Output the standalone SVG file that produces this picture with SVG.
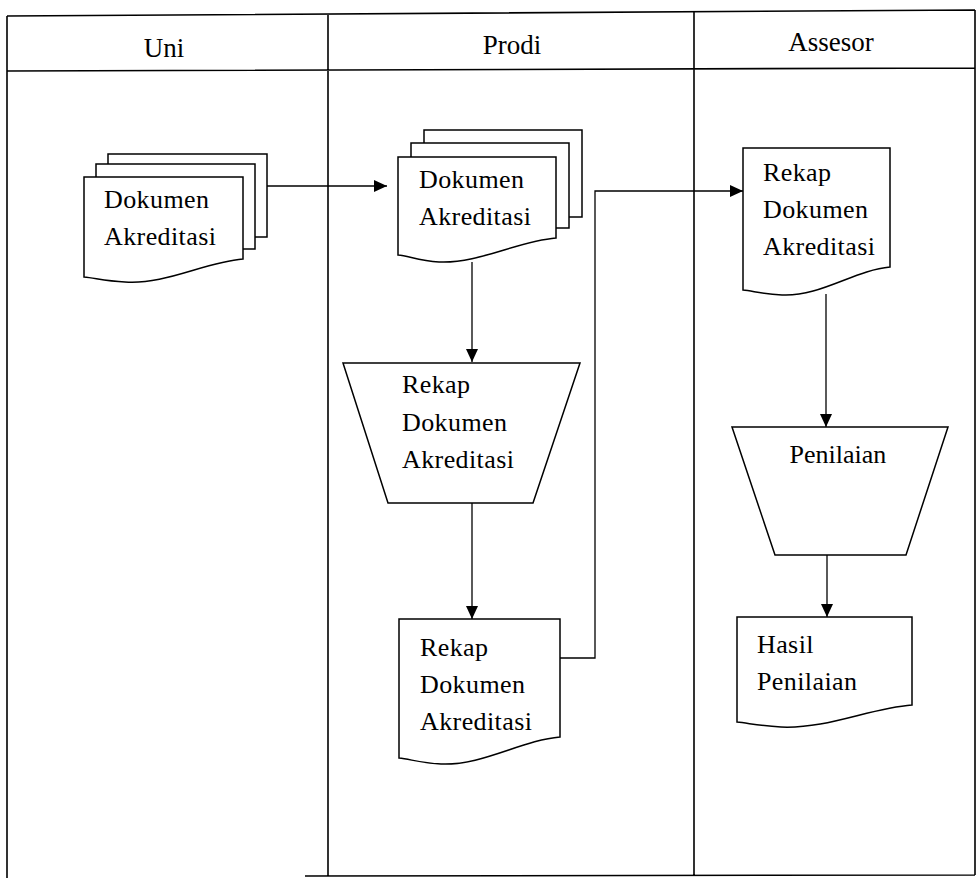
<svg xmlns="http://www.w3.org/2000/svg" width="978" height="878" viewBox="0 0 978 878">
<style>
.frame{fill:none;stroke:#000;stroke-width:1.6}
.shape{fill:#fff;stroke:#000;stroke-width:1.5;stroke-linejoin:miter}
.conn{fill:none;stroke:#000;stroke-width:1.3}
.hdr{font-family:"Liberation Serif","Times New Roman",serif;font-size:27px;fill:#000;text-anchor:middle}
.lbl{font-family:"Liberation Serif","Times New Roman",serif;font-size:26px;letter-spacing:0.4px;fill:#000}
</style>
<defs>
<marker id="arr" markerUnits="userSpaceOnUse" markerWidth="14" markerHeight="12" refX="13" refY="6" orient="auto">
<path d="M0,0 L13,6 L0,12 Z" fill="#000"/>
</marker>
</defs>
<g id="lanes">
<path class="frame" d="M7,16 L975,10 M7,71 L975,68 M7,16 L7,878 M975,10 L975,875 M305,876 L975,875 M328,14 L328,876 M694,12 L694,875"/>
<text class="hdr" x="164" y="57">Uni</text>
<text class="hdr" x="512" y="54">Prodi</text>
<text class="hdr" x="831" y="51">Assesor</text>
</g>
<g id="connectors">
<path class="conn" d="M267,186 L387,186" marker-end="url(#arr)"/>
<path class="conn" d="M472,262 L472,362" marker-end="url(#arr)"/>
<path class="conn" d="M472,503 L472,619" marker-end="url(#arr)"/>
<path class="conn" d="M560,658 L595,658 L595,191 L743,191" marker-end="url(#arr)"/>
<path class="conn" d="M826,294 L826,427" marker-end="url(#arr)"/>
<path class="conn" d="M827,555 L827,617" marker-end="url(#arr)"/>
</g>
<g id="uni-dokumen">
<rect class="shape" x="108" y="154" width="159" height="83"/>
<rect class="shape" x="96" y="164" width="159" height="85"/>
<path class="shape" d="M84,177 L243,177 L243,259 C205,262 165,285 125,282 C105,281 95,278 84,277 Z"/>
<text class="lbl" x="104" y="208">Dokumen</text>
<text class="lbl" x="104" y="245">Akreditasi</text>
</g>
<g id="prodi-dokumen">
<rect class="shape" x="424" y="130" width="158" height="87"/>
<rect class="shape" x="411" y="143" width="158" height="85"/>
<path class="shape" d="M398,157 L556,157 L556,238 C518,241 478,264 439,262 C419,261 409,256 398,255 Z"/>
<text class="lbl" x="419" y="188">Dokumen</text>
<text class="lbl" x="419" y="225">Akreditasi</text>
</g>
<g id="prodi-rekap-manual">
<path class="shape" d="M343,363 L580,363 L533,503 L388,503 Z"/>
<text class="lbl" x="402" y="393">Rekap</text>
<text class="lbl" x="402" y="431">Dokumen</text>
<text class="lbl" x="402" y="468">Akreditasi</text>
</g>
<g id="prodi-rekap-doc">
<path class="shape" d="M399,619 L560,619 L560,737 C522,740 482,766 441,764 C420,763 410,759 399,758 Z"/>
<text class="lbl" x="420" y="656">Rekap</text>
<text class="lbl" x="420" y="693">Dokumen</text>
<text class="lbl" x="420" y="730">Akreditasi</text>
</g>
<g id="assesor-rekap-doc">
<path class="shape" d="M743,148 L890,148 L890,267 C855,270 820,297 782,295 C763,294 753,291 743,290 Z"/>
<text class="lbl" x="763" y="181">Rekap</text>
<text class="lbl" x="763" y="218">Dokumen</text>
<text class="lbl" x="763" y="255">Akreditasi</text>
</g>
<g id="assesor-penilaian">
<path class="shape" d="M732,427 L948,427 L906,555 L775,555 Z"/>
<text class="hdr" x="838" y="463" style="font-size:26px">Penilaian</text>
</g>
<g id="assesor-hasil">
<path class="shape" d="M737,617 L912,617 L912,705 C870,708 828,729 781,727 C760,726 748,723 737,722 Z"/>
<text class="lbl" x="757" y="653">Hasil</text>
<text class="lbl" x="757" y="690">Penilaian</text>
</g>
</svg>
